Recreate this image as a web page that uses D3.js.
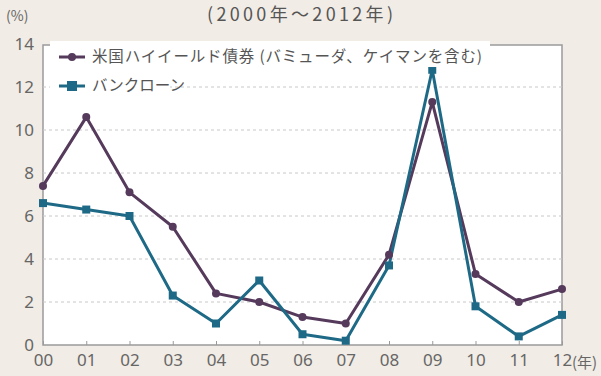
<!DOCTYPE html>
<html><head><meta charset="utf-8">
<script src="https://cdn.jsdelivr.net/npm/d3@7"></script>
<style>
html,body{margin:0;padding:0;background:#f1ece5;}
svg{display:block;font-family:"Noto Sans CJK JP","Noto Sans",sans-serif;}
</style></head><body>
<svg id="c" width="601" height="376"></svg>
<script>
const categories = ["00","01","02","03","04","05","06","07","08","09","10","11","12"];
const highYield = [7.4,10.6,7.1,5.5,2.4,2.0,1.3,1.0,4.2,11.3,3.3,2.0,2.6];
const bankLoan = [6.6,6.3,6.0,2.3,1.0,3.0,0.5,0.2,3.7,12.8,1.8,0.4,1.4];
const yTicks = [0,2,4,6,8,10,12,14];
const seriesNames = ["米国ハイイールド債券 (バミューダ、ケイマンを含む)","バンクローン"];
const title = "(2000年～2012年)";

const svg = d3.select("#c");
const L=43, R=562, T=45, B=345;
const x = d3.scalePoint().domain(categories).range([L,R]);
const y = d3.scaleLinear().domain([0,14]).range([B,B-14*21.5]);

svg.append("rect").attr("x",L).attr("y",T).attr("width",R-L).attr("height",B-T)
  .attr("fill","#fff").attr("stroke","#9a9a9a").attr("stroke-width",1.5);

// grid
svg.append("g").selectAll("line").data(yTicks.filter(d=>d>0&&d<14)).join("line")
  .attr("x1",L).attr("x2",R).attr("y1",d=>y(d)).attr("y2",d=>y(d))
  .attr("stroke","#c8c8c8").attr("stroke-dasharray","3,3").attr("stroke-width",1);

// y axis labels
const ya = svg.append("g").attr("transform",`translate(${L-9},0)`)
  .call(d3.axisLeft(y).tickValues(yTicks).tickSize(0).tickPadding(0));
ya.select(".domain").remove();
ya.selectAll("text").attr("font-size",17).attr("fill","#666").attr("font-family","Noto Sans, sans-serif");

// x axis
const xa = svg.append("g").attr("transform",`translate(0,${B})`)
  .call(d3.axisBottom(x).tickSize(-4).tickPadding(9));
xa.select(".domain").remove();
xa.selectAll("line").attr("stroke","#9a9a9a");
xa.selectAll("text").attr("font-size",17).attr("fill","#666").attr("font-family","Noto Sans, sans-serif");

svg.append("text").attr("x",R+10).attr("y",B+23).attr("font-size",15).attr("fill","#666").text("(年)");
svg.append("text").attr("x",6).attr("y",21).attr("font-size",14).attr("fill","#666").text("(%)");
svg.append("text").attr("x",300).attr("y",21).attr("text-anchor","middle").attr("font-size",18).attr("fill","#555")
  .attr("textLength",186).text(title);

const line = d3.line().x((d,i)=>x(categories[i])).y(d=>y(d));
const colors = ["#553a5c","#1e6a86"];
const data = [highYield, bankLoan];

data.forEach((s,k)=>{
  svg.append("path").datum(s).attr("d",line).attr("fill","none")
    .attr("stroke",colors[k]).attr("stroke-width",3).attr("stroke-linejoin","round");
});
data.forEach((s,k)=>{
  const g = svg.append("g");
  if(k===0){
    g.selectAll("circle").data(s).join("circle").attr("cx",(d,i)=>x(categories[i])).attr("cy",d=>y(d))
      .attr("r",4).attr("fill",colors[k]);
  } else {
    g.selectAll("rect").data(s).join("rect").attr("x",(d,i)=>x(categories[i])-4).attr("y",d=>y(d)-4)
      .attr("width",8).attr("height",8).attr("fill",colors[k]);
  }
});

// legend
const ly=[57,86];
seriesNames.forEach((n,k)=>{
  svg.append("rect").attr("x",50).attr("y",ly[k]-16).attr("width",k===0?440:120).attr("height",26).attr("fill","#fff");
});
seriesNames.forEach((n,k)=>{
  svg.append("line").attr("x1",59).attr("x2",85).attr("y1",ly[k]).attr("y2",ly[k]).attr("stroke",colors[k]).attr("stroke-width",3);
  if(k===0) svg.append("circle").attr("cx",72).attr("cy",ly[k]).attr("r",4).attr("fill",colors[k]);
  else svg.append("rect").attr("x",67).attr("y",ly[k]-5).attr("width",10).attr("height",10).attr("fill",colors[k]);
  svg.append("text").attr("x",92).attr("y",ly[k]+5).attr("font-size",15.5).attr("fill","#555").attr("textLength",k===0?390:null).text(n);
});
</script>
</body></html>
